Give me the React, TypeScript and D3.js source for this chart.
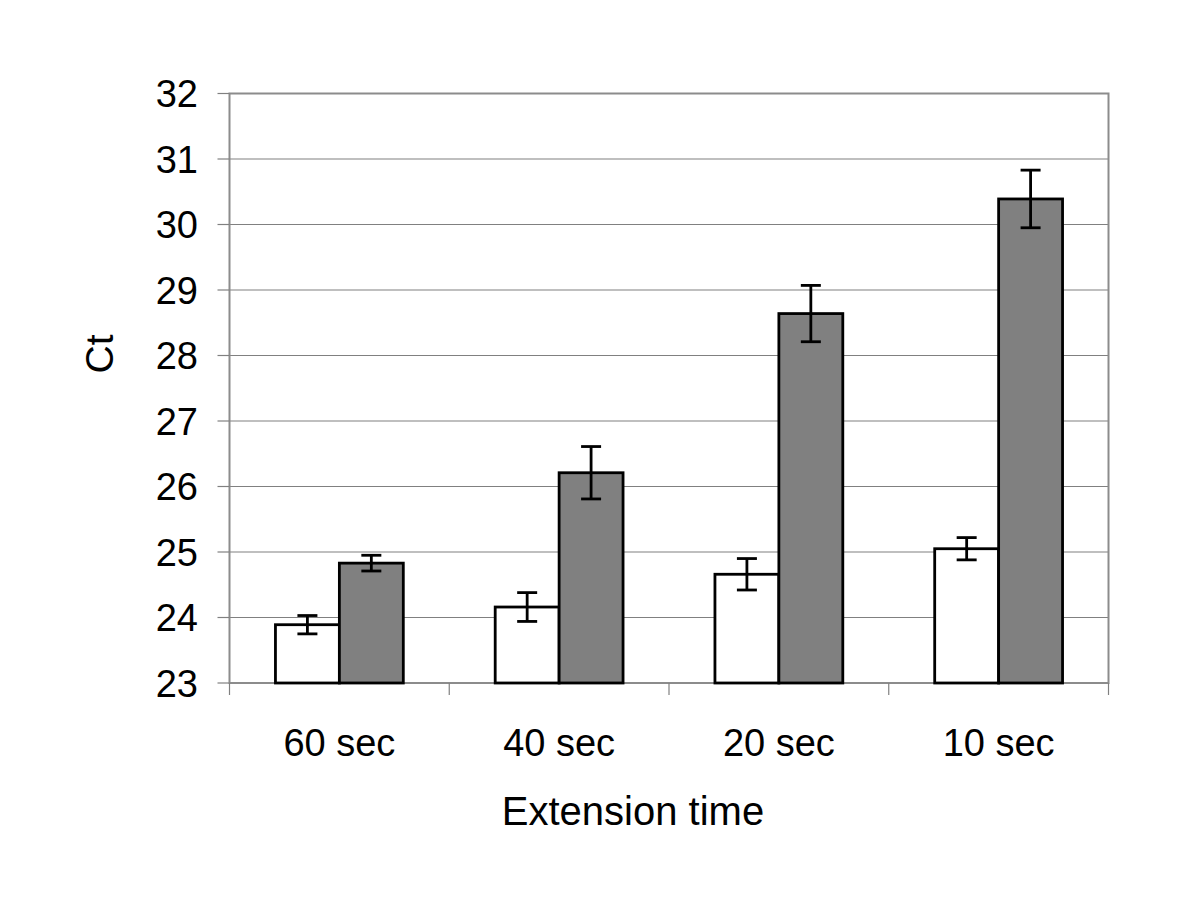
import React from "react";
import * as d3 from "d3";

const categories = ["60 sec", "40 sec", "20 sec", "10 sec"];
const series = ["white", "gray"];
const whiteValues = [23.89, 24.16, 24.66, 25.05];
const whiteErrors = [0.14, 0.22, 0.24, 0.17];
const grayValues = [24.83, 26.21, 28.64, 30.39];
const grayErrors = [0.12, 0.4, 0.43, 0.44];
const yTicks = [23, 24, 25, 26, 27, 28, 29, 30, 31, 32];
const xTitle = "Extension time";
const yTitle = "Ct";

const W = 1200;
const H = 900;
const left = 229.5;
const right = 1108.5;
const top = 93.5;
const bottom = 683;
const FONT = "Liberation Sans, Arial, sans-serif";

export default function App() {
  const y = d3.scaleLinear().domain([23, 32]).range([bottom, top]);
  const x = d3.scaleBand<string>().domain(categories).range([left, right]).padding(0);
  const xi = d3
    .scaleBand<string>()
    .domain(series)
    .range([0, x.bandwidth()])
    .paddingInner(0)
    .paddingOuter(0.71875);

  const seriesData = [
    { key: "white", values: whiteValues, errors: whiteErrors, fill: "#ffffff" },
    { key: "gray", values: grayValues, errors: grayErrors, fill: "#808080" },
  ];

  const xTickPositions = [...categories.map((c) => x(c)!), right];

  return (
    <svg
      width={W}
      height={H}
      style={{ position: "absolute", left: 0, top: 0, background: "#fff" }}
      fontFamily={FONT}
    >
      <rect x={0} y={0} width={W} height={H} fill="#fff" />
      {yTicks.map((t) => (
        <line key={"g" + t} x1={left} x2={right} y1={y(t)} y2={y(t)} stroke="#808080" strokeWidth={1.2} />
      ))}
      <rect x={left} y={top} width={right - left} height={bottom - top} fill="none" stroke="#8c8c8c" strokeWidth={2} />
      {yTicks.map((t) => (
        <g key={"yt" + t}>
          <line x1={left - 12} x2={left} y1={y(t)} y2={y(t)} stroke="#808080" strokeWidth={1.2} />
          <text x={198} y={y(t) + 13.5} textAnchor="end" fontSize={38} fill="#000">
            {t}
          </text>
        </g>
      ))}
      {xTickPositions.map((p, i) => (
        <line key={"xt" + i} x1={p} x2={p} y1={bottom} y2={bottom + 12} stroke="#808080" strokeWidth={1.2} />
      ))}
      {seriesData.map((s) =>
        categories.map((c, i) => {
          const bx = x(c)! + xi(s.key)!;
          const bw = xi.bandwidth();
          return (
            <rect
              key={s.key + c}
              x={bx}
              y={y(s.values[i])}
              width={bw}
              height={bottom - y(s.values[i])}
              fill={s.fill}
              stroke="#000"
              strokeWidth={2.8}
            />
          );
        })
      )}
      {seriesData.map((s) =>
        categories.map((c, i) => {
          const cx = x(c)! + xi(s.key)! + xi.bandwidth() / 2;
          const hi = y(s.values[i] + s.errors[i]);
          const lo = y(s.values[i] - s.errors[i]);
          return (
            <g key={"e" + s.key + c} stroke="#000" strokeWidth={2.8}>
              <line x1={cx} x2={cx} y1={hi} y2={lo} />
              <line x1={cx - 10} x2={cx + 10} y1={hi} y2={hi} />
              <line x1={cx - 10} x2={cx + 10} y1={lo} y2={lo} />
            </g>
          );
        })
      )}
      {categories.map((c) => (
        <text key={"xl" + c} x={x(c)! + x.bandwidth() / 2} y={756} textAnchor="middle" fontSize={38} fill="#000">
          {c}
        </text>
      ))}
      <text x={633} y={825} textAnchor="middle" fontSize={40} fill="#000">
        {xTitle}
      </text>
      <text transform={`translate(113, 354) rotate(-90)`} textAnchor="middle" fontSize={39} fill="#000">
        {yTitle}
      </text>
    </svg>
  );
}
